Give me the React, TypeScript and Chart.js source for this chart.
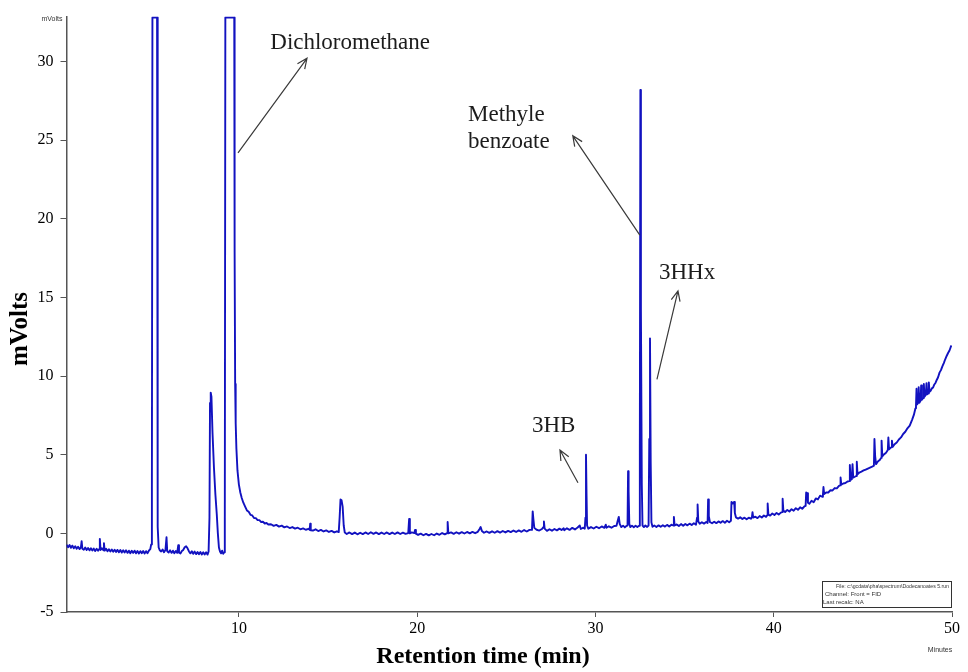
import { useEffect, useRef } from "react";
import { Chart, registerables } from "chart.js";

Chart.register(...registerables);

type Pt = [number, number];

// Retention time (min), signal (mV)
const preSolvent: Pt[] = [
  [0.33, -0.72], [0.42, -0.88], [0.5, -0.74], [0.58, -0.92], [0.66, -0.78], [0.74, -0.95], [0.82, -0.82], [0.9, -0.98],
  [0.98, -0.85], [1.06, -1.0], [1.14, -0.88], [1.18, -0.5], [1.22, -0.98], [1.3, -1.04], [1.38, -0.9], [1.46, -1.06],
  [1.54, -0.93], [1.62, -1.08], [1.7, -0.95], [1.78, -1.09], [1.86, -0.97], [1.94, -1.12], [2.02, -0.98], [2.1, -1.1],
  [2.18, -0.98], [2.2, -0.35], [2.24, -1.06], [2.32, -0.94], [2.4, -1.08], [2.43, -0.62], [2.47, -1.1], [2.55, -0.98],
  [2.63, -1.14], [2.71, -1.01], [2.79, -1.15], [2.87, -1.03], [2.95, -1.17], [3.03, -1.04], [3.11, -1.18], [3.19, -1.05],
  [3.27, -1.2], [3.35, -1.06], [3.43, -1.22], [3.51, -1.08], [3.59, -1.22], [3.67, -1.08], [3.75, -1.24], [3.83, -1.1],
  [3.91, -1.26], [3.99, -1.11], [4.07, -1.24], [4.15, -1.1], [4.23, -1.27], [4.31, -1.12], [4.39, -1.28], [4.47, -1.13],
  [4.55, -1.26], [4.63, -1.12], [4.71, -1.28], [4.79, -1.13], [4.87, -1.26], [4.95, -1.1], [5.03, -1.0], [5.08, -0.7],
];

const solventPeaks: Pt[] = [
  [5.12, 2.8], [5.15, 32.8], [5.41, 32.8], [5.43, 12.7], [5.46, 0.4], [5.5, -0.9], [5.56, -1.07], [5.64, -1.15],
  [5.72, -1.03], [5.8, -1.2], [5.88, -1.06], [5.94, -0.25], [5.98, -1.14], [6.06, -1.22], [6.14, -1.08], [6.22, -1.24],
  [6.3, -1.1], [6.38, -1.26], [6.46, -1.12], [6.54, -1.24], [6.6, -0.75], [6.64, -1.22], [6.72, -1.28], [6.8, -1.12],
  [6.88, -1.05], [6.96, -0.88], [7.04, -0.82], [7.12, -0.95], [7.2, -1.15], [7.28, -1.27], [7.36, -1.14], [7.44, -1.3],
  [7.52, -1.16], [7.6, -1.32], [7.68, -1.18], [7.76, -1.32], [7.84, -1.19], [7.92, -1.34], [8.0, -1.2], [8.08, -1.34],
  [8.16, -1.2], [8.24, -1.35], [8.3, -1.15],
  [8.35, 1.0], [8.38, 8.3], [8.42, 8.95], [8.46, 8.7], [8.52, 6.4], [8.6, 4.2], [8.68, 2.5], [8.76, 1.2],
  [8.82, 0.0], [8.88, -0.9], [8.94, -1.15], [9.0, -1.27], [9.06, -1.1], [9.12, -1.3], [9.18, -1.2],
  [9.21, 1.0], [9.24, 32.8], [9.74, 32.8], [9.76, 18.0], [9.79, 9.5], [9.82, 7.0], [9.86, 5.4], [9.92, 4.0],
  [10.0, 3.1], [10.08, 2.6], [10.16, 2.25],
];

const solventTail: Pt[] = [
  [10.25, 1.95], [10.35, 1.7], [10.45, 1.46], [10.55, 1.37], [10.65, 1.18], [10.75, 1.14], [10.85, 0.98], [10.95, 0.97],
  [11.05, 0.84], [11.15, 0.84], [11.25, 0.72], [11.35, 0.74], [11.45, 0.63], [11.55, 0.66], [11.65, 0.56], [11.8, 0.58],
  [11.95, 0.48], [12.1, 0.54], [12.25, 0.43], [12.4, 0.49], [12.55, 0.38], [12.7, 0.44], [12.85, 0.34], [13.0, 0.4],
  [13.15, 0.3], [13.3, 0.36], [13.45, 0.26], [13.6, 0.32], [13.75, 0.23], [13.9, 0.29], [13.97, 0.22], [14.0, 0.62],
  [14.03, 0.2], [14.15, 0.18], [14.3, 0.26], [14.45, 0.15], [14.6, 0.22], [14.75, 0.12], [14.9, 0.19], [15.05, 0.09],
  [15.2, 0.16], [15.35, 0.06], [15.5, 0.13], [15.6, 0.08],
];

const midRun: Pt[] = [
  [15.65, 1.0], [15.7, 2.15], [15.76, 2.1], [15.82, 1.7], [15.88, 0.5], [15.94, 0.05], [16.05, -0.04], [16.2, 0.06],
  [16.35, -0.05], [16.5, 0.05], [16.65, -0.06], [16.8, 0.04], [16.95, -0.05], [17.1, 0.06], [17.25, -0.04], [17.4, 0.07],
  [17.55, -0.03], [17.7, 0.06], [17.85, -0.05], [18.0, 0.05], [18.15, -0.04], [18.3, 0.06], [18.45, -0.05], [18.6, 0.05],
  [18.75, -0.04], [18.9, 0.06], [19.05, -0.04], [19.2, 0.05], [19.35, -0.03], [19.5, 0.02], [19.55, 0.92], [19.59, 0.0],
  [19.7, 0.06], [19.84, 0.02], [19.88, 0.22], [19.93, -0.02], [20.05, -0.1], [20.2, -0.02], [20.35, -0.12], [20.5, -0.03],
  [20.65, -0.13], [20.8, -0.04], [20.95, -0.12], [21.1, -0.01], [21.25, -0.09], [21.4, 0.02], [21.55, -0.06], [21.68, 0.02],
  [21.71, 0.72], [21.75, 0.0], [21.9, 0.06], [22.05, -0.03], [22.2, 0.07], [22.35, -0.02], [22.5, 0.08], [22.65, -0.01],
  [22.8, 0.09], [22.95, 0.0], [23.1, 0.09], [23.25, 0.01], [23.4, 0.1], [23.5, 0.28], [23.56, 0.4], [23.63, 0.15],
  [23.75, 0.04], [23.9, 0.12], [24.05, 0.03], [24.2, 0.13], [24.35, 0.04], [24.5, 0.14], [24.65, 0.05], [24.8, 0.15],
  [24.95, 0.06], [25.1, 0.16], [25.25, 0.08], [25.4, 0.18], [25.55, 0.09], [25.7, 0.19], [25.85, 0.1], [26.0, 0.21],
  [26.15, 0.12], [26.3, 0.22], [26.44, 0.22], [26.48, 1.4], [26.52, 0.9], [26.57, 0.35], [26.7, 0.23], [26.85, 0.18],
  [27.0, 0.28], [27.08, 0.4], [27.11, 0.75], [27.15, 0.3], [27.28, 0.16], [27.42, 0.26], [27.56, 0.17], [27.7, 0.28],
  [27.84, 0.19], [27.98, 0.3], [28.1, 0.21], [28.22, 0.32], [28.25, 0.2], [28.4, 0.32], [28.55, 0.22], [28.7, 0.35],
  [28.85, 0.25], [29.0, 0.37], [29.12, 0.5], [29.18, 0.28], [29.3, 0.36], [29.4, 0.3],
];

const analytePeaks: Pt[] = [
  [29.44, 1.0], [29.47, 5.0], [29.5, 2.5], [29.53, 0.5], [29.6, 0.3], [29.75, 0.4], [29.9, 0.31], [30.05, 0.42],
  [30.2, 0.33], [30.35, 0.44], [30.5, 0.35], [30.58, 0.55], [30.62, 0.36], [30.75, 0.45], [30.9, 0.36], [31.05, 0.47],
  [31.18, 0.48], [31.25, 0.8], [31.31, 1.05], [31.36, 0.6], [31.45, 0.4], [31.55, 0.49], [31.65, 0.38], [31.75, 0.48],
  [31.8, 0.5], [31.83, 3.95], [31.86, 2.7], [31.9, 0.6], [31.96, 0.4], [32.05, 0.49], [32.15, 0.39], [32.25, 0.48],
  [32.35, 0.4], [32.45, 0.48], [32.49, 5.0], [32.52, 28.2], [32.55, 14.3], [32.6, 3.1], [32.64, 0.5], [32.72, 0.4],
  [32.8, 0.5], [32.9, 0.41], [32.98, 0.5], [33.02, 6.0], [33.06, 12.4], [33.1, 4.46], [33.14, 0.7], [33.2, 0.42],
];

const lateRun: Pt[] = [
  [33.3, 0.5], [33.42, 0.41], [33.54, 0.51], [33.66, 0.42], [33.78, 0.52], [33.9, 0.43], [34.02, 0.54], [34.14, 0.44],
  [34.26, 0.55], [34.36, 0.5], [34.4, 1.05], [34.44, 0.5], [34.56, 0.57], [34.68, 0.47], [34.8, 0.59], [34.92, 0.49],
  [35.04, 0.6], [35.16, 0.51], [35.28, 0.62], [35.4, 0.53], [35.52, 0.64], [35.64, 0.55], [35.7, 1.0], [35.73, 1.84],
  [35.77, 0.75], [35.85, 0.61], [35.97, 0.71], [36.09, 0.62], [36.21, 0.72], [36.29, 0.66], [36.32, 2.15], [36.36, 1.1],
  [36.42, 0.72], [36.54, 0.64], [36.66, 0.74], [36.78, 0.65], [36.9, 0.76], [37.02, 0.67], [37.14, 0.78], [37.26, 0.68],
  [37.38, 0.8], [37.5, 0.71], [37.6, 0.8], [37.63, 2.0], [37.7, 1.9], [37.78, 2.0], [37.82, 1.3], [37.88, 1.02],
  [38.0, 0.94], [38.12, 1.02], [38.24, 0.91], [38.36, 1.0], [38.48, 0.9], [38.6, 1.0], [38.72, 0.93], [38.78, 1.05],
  [38.81, 1.35], [38.85, 1.0], [38.97, 1.06], [39.09, 0.97], [39.21, 1.1], [39.33, 1.01], [39.45, 1.14], [39.57, 1.05],
  [39.63, 1.15], [39.66, 1.9], [39.7, 1.2], [39.8, 1.13], [39.92, 1.26], [40.04, 1.17], [40.16, 1.3], [40.28, 1.2],
  [40.4, 1.32], [40.47, 1.35], [40.5, 2.2], [40.54, 1.45], [40.64, 1.36], [40.76, 1.49], [40.88, 1.39], [41.0, 1.54],
  [41.12, 1.44], [41.24, 1.6], [41.36, 1.5], [41.48, 1.66], [41.6, 1.56], [41.72, 1.72], [41.79, 1.75], [41.82, 2.6],
  [41.88, 2.55], [41.92, 1.95], [42.0, 1.88],
];

const columnBleed: Pt[] = [
  [42.12, 2.07], [42.24, 1.98], [42.36, 2.22], [42.48, 2.16], [42.6, 2.4], [42.72, 2.33], [42.76, 2.45], [42.79, 2.95],
  [42.83, 2.5], [42.94, 2.6], [43.06, 2.6], [43.18, 2.74], [43.3, 2.73], [43.42, 2.88], [43.54, 2.86], [43.66, 3.02],
  [43.72, 3.05], [43.75, 3.55], [43.79, 3.1], [43.9, 3.17], [44.02, 3.2], [44.14, 3.3], [44.24, 3.32], [44.27, 4.35],
  [44.31, 3.4], [44.38, 3.45], [44.42, 4.4], [44.46, 3.55], [44.55, 3.6], [44.63, 3.65], [44.66, 4.55], [44.7, 3.75],
  [44.8, 3.87], [44.92, 3.93], [45.04, 4.0], [45.16, 4.06], [45.28, 4.12], [45.4, 4.18], [45.52, 4.24], [45.62, 4.3],
  [45.65, 6.0], [45.69, 4.9], [45.74, 4.4], [45.84, 4.57], [45.96, 4.68], [46.02, 4.8], [46.05, 5.9], [46.09, 4.9],
  [46.18, 5.02], [46.3, 5.13], [46.4, 5.3], [46.43, 6.1], [46.47, 5.35], [46.58, 5.47], [46.63, 5.9], [46.67, 5.5],
  [46.78, 5.67], [46.9, 5.78], [47.02, 5.97], [47.14, 6.1], [47.26, 6.32], [47.38, 6.46], [47.5, 6.68], [47.63, 6.85],
  [47.76, 7.22], [47.86, 7.53], [47.95, 7.95], [47.98, 8.1], [48.01, 9.2], [48.05, 8.2], [48.1, 8.35], [48.13, 9.3],
  [48.17, 8.3], [48.24, 8.45], [48.27, 9.4], [48.31, 8.5], [48.38, 8.6], [48.42, 9.5], [48.46, 8.7], [48.53, 8.8],
  [48.57, 9.55], [48.61, 8.85], [48.67, 8.9], [48.7, 9.6], [48.74, 9.0], [48.8, 9.06], [48.87, 9.22], [48.94, 9.28],
  [49.01, 9.47], [49.08, 9.58], [49.15, 9.77], [49.22, 9.93], [49.3, 10.22], [49.38, 10.38], [49.46, 10.62], [49.54, 10.83],
  [49.62, 11.07], [49.7, 11.28], [49.78, 11.47], [49.86, 11.63], [49.92, 11.82], [49.97, 11.95],
];

const xTickValues = [10, 20, 30, 40, 50];
const yTickValues = [-5, 0, 5, 10, 15, 20, 25, 30];
const xRange: [number, number] = [0.33, 50];
const yRange: [number, number] = [-5, 32.86];

type Annotation = { lines: string[]; textAt: Pt; tail: Pt; head: Pt };
const annotations: Annotation[] = [
  { lines: ["Dichloromethane"], textAt: [11.76, 31.16], tail: [9.95, 24.2], head: [13.82, 30.21] },
  { lines: ["Methyle", "benzoate"], textAt: [22.85, 26.6], tail: [32.49, 18.96], head: [28.73, 25.28] },
  { lines: ["3HHx"], textAt: [33.56, 16.57], tail: [33.45, 9.79], head: [34.63, 15.42] },
  { lines: ["3HB"], textAt: [26.44, 6.82], tail: [29.02, 3.22], head: [28.01, 5.3] },
];

const infoLines = ["File: c:\\gcdata\\pha\\spectrum\\Dodecanoates 5.run", "Channel: Front = FID", "Last recalc: NA"];

const SERIF = '"Liberation Serif", "Times New Roman", serif';
const SANS = '"Liberation Sans", Arial, sans-serif';

const overlayPlugin = {
  id: "overlay",
  afterDraw(chart: any) {
    const ctx: CanvasRenderingContext2D = chart.ctx;
    const xs = chart.scales.x;
    const ys = chart.scales.y;
    ctx.save();

    // annotations
    ctx.fillStyle = "#1c1c1c";
    ctx.font = `23px ${SERIF}`;
    ctx.textAlign = "left";
    ctx.textBaseline = "middle";
    for (const a of annotations) {
      const tx = xs.getPixelForValue(a.textAt[0]);
      const ty = ys.getPixelForValue(a.textAt[1]);
      a.lines.forEach((l, i) => ctx.fillText(l, tx, ty + i * 27));
      const x1 = xs.getPixelForValue(a.tail[0]);
      const y1 = ys.getPixelForValue(a.tail[1]);
      const x2 = xs.getPixelForValue(a.head[0]);
      const y2 = ys.getPixelForValue(a.head[1]);
      ctx.strokeStyle = "#3a3a3a";
      ctx.lineWidth = 1.2;
      ctx.beginPath();
      ctx.moveTo(x1, y1);
      ctx.lineTo(x2, y2);
      const ang = Math.atan2(y2 - y1, x2 - x1);
      const len = 11;
      ctx.moveTo(x2 - len * Math.cos(ang - 0.42), y2 - len * Math.sin(ang - 0.42));
      ctx.lineTo(x2, y2);
      ctx.lineTo(x2 - len * Math.cos(ang + 0.42), y2 - len * Math.sin(ang + 0.42));
      ctx.stroke();
    }

    // axis titles
    ctx.fillStyle = "#000";
    ctx.textAlign = "center";
    ctx.font = `bold 25px ${SERIF}`;
    ctx.save();
    ctx.translate(21, 329);
    ctx.rotate(-Math.PI / 2);
    ctx.fillText("mVolts", 0, 0);
    ctx.restore();
    ctx.font = `bold 24px ${SERIF}`;
    ctx.fillText("Retention time (min)", 483, 657);

    // small instrument labels
    ctx.font = `7px ${SANS}`;
    ctx.fillStyle = "#333";
    ctx.fillText("mVolts", 52, 19);
    ctx.fillText("Minutes", 940, 650);

    // info box
    const bx = 822, by = 581, bw = 129, bh = 26;
    ctx.strokeStyle = "#333";
    ctx.lineWidth = 1;
    ctx.strokeRect(bx + 0.5, by + 0.5, bw, bh);
    ctx.font = `6px ${SANS}`;
    ctx.textAlign = "right";
    ctx.fillText(infoLines[0], bx + bw - 2, by + 5, bw - 16);
    ctx.textAlign = "left";
    ctx.fillText(infoLines[1], bx + 3, by + 13);
    ctx.fillText(infoLines[2], bx + 1, by + 21);

    ctx.restore();
  },
};

export default function App() {
  const ref = useRef<HTMLCanvasElement | null>(null);
  useEffect(() => {
    if (!ref.current) return;
    const trace = [...preSolvent, ...solventPeaks, ...solventTail, ...midRun, ...analytePeaks, ...lateRun, ...columnBleed].map(
      ([x, y]) => ({ x, y })
    );
    const chart = new Chart(ref.current, {
      type: "line",
      data: {
        datasets: [
          {
            data: trace,
            borderColor: "#1212c0",
            borderWidth: 1.9,
            pointRadius: 0,
            tension: 0,
            fill: false,
            borderJoinStyle: "round",
          },
        ],
      },
      options: {
        responsive: false,
        animation: false,
        devicePixelRatio: 1,
        layout: { padding: { top: 13, right: 16, left: 0, bottom: 0 } },
        plugins: { legend: { display: false }, tooltip: { enabled: false }, title: { display: false } },
        scales: {
          x: {
            type: "linear",
            min: xRange[0],
            max: xRange[1],
            afterFit: (s: any) => {
              s.height = 60;
            },
            afterBuildTicks: (s: any) => {
              s.ticks = xTickValues.map((v) => ({ value: v }));
            },
            grid: { drawOnChartArea: false, drawTicks: true, tickLength: 5, color: "#555" },
            border: { display: true, color: "#555", width: 1.5 },
            ticks: { color: "#000", font: { family: SERIF, size: 16 }, padding: 2, maxRotation: 0, autoSkip: false },
          },
          y: {
            type: "linear",
            min: yRange[0],
            max: yRange[1],
            afterFit: (s: any) => {
              s.width = 66.5;
            },
            afterBuildTicks: (s: any) => {
              s.ticks = yTickValues.map((v) => ({ value: v }));
            },
            grid: { drawOnChartArea: false, drawTicks: true, tickLength: 6, color: "#555" },
            border: { display: true, color: "#555", width: 1.5 },
            ticks: { color: "#000", font: { family: SERIF, size: 16 }, padding: 7, autoSkip: false },
          },
        },
      } as any,
      plugins: [overlayPlugin],
    });
    return () => chart.destroy();
  }, []);
  return (
    <div style={{ position: "absolute", left: 0, top: 0, width: 968, height: 672, background: "#fff" }}>
      <canvas ref={ref} width={968} height={672} style={{ display: "block" }} />
    </div>
  );
}
